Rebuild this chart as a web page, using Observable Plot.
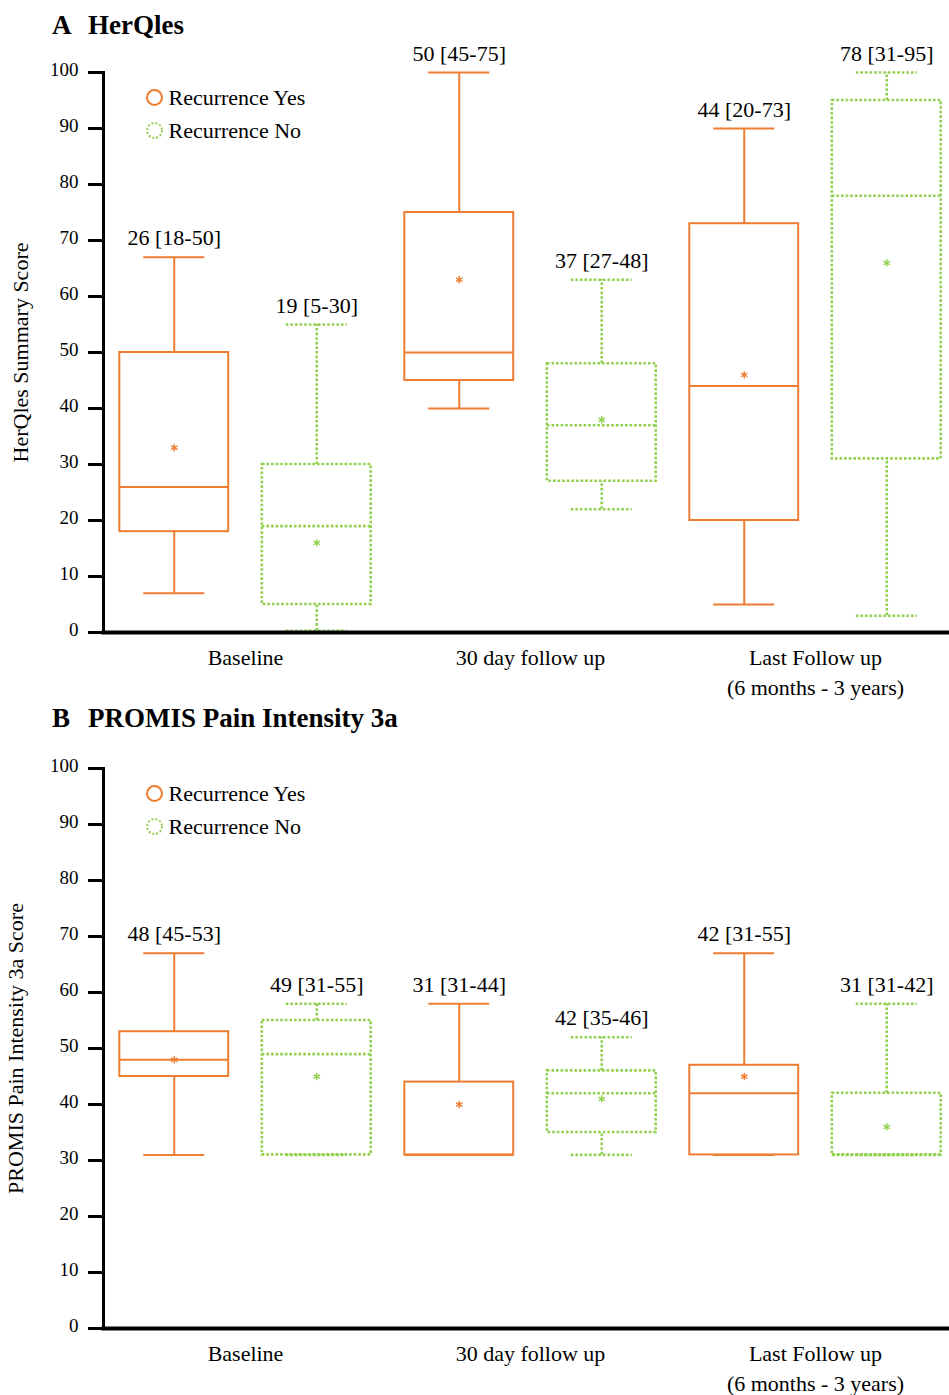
<!DOCTYPE html>
<html>
<head>
<meta charset="utf-8">
<script src="https://cdn.jsdelivr.net/npm/d3@7"></script>
<script src="https://cdn.jsdelivr.net/npm/@observablehq/plot@0.6"></script>
<style>
  html, body { margin: 0; padding: 0; background: #fff; }
  body { width: 949px; overflow: hidden; font-family: "Liberation Serif", "Times New Roman", serif; color: #000; }
  .title { height: 48px; line-height: 50px; padding-left: 52px; font-size: 27px; font-weight: bold; white-space: nowrap; }
  .title.b { line-height: 44px; }
  .title .letter { display: inline-block; width: 36px; }
  svg { display: block; }
</style>
</head>
<body>
<div id="app"></div>
<script>
// ---------- data ----------
const timepoints = ["Baseline", "30 day follow up", "Last Follow up\n(6 months - 3 years)"];
const seriesNames = ["Recurrence Yes", "Recurrence No"];
const yTicks = [0, 10, 20, 30, 40, 50, 60, 70, 80, 90, 100];
// each row: [min, q1, median, q3, max, mean] per timepoint
const herqlesYes = [[7, 18, 26, 50, 67, 33], [40, 45, 50, 75, 100, 63], [5, 20, 44, 73, 90, 46]];
const herqlesNo  = [[0.3, 5, 19, 30, 55, 16], [22, 27, 37, 48, 63, 38], [3, 31, 78, 95, 100, 66]];
const herqlesYesLabels = ["26 [18-50]", "50 [45-75]", "44 [20-73]"];
const herqlesNoLabels  = ["19 [5-30]", "37 [27-48]", "78 [31-95]"];
const promisYes = [[31, 45, 48, 53, 67, 48], [31, 31, 31, 44, 58, 40], [31, 31, 42, 47, 67, 45]];
const promisNo  = [[31, 31, 49, 55, 58, 45], [31, 35, 42, 46, 52, 41], [31, 31, 31, 42, 58, 36]];
const promisYesLabels = ["48 [45-53]", "31 [31-44]", "42 [31-55]"];
const promisNoLabels  = ["49 [31-55]", "42 [35-46]", "31 [31-42]"];

// ---------- styles ----------
const ORANGE = "#ED7D31";
const GREEN = "#92D050";
const FS = 22;
const styles = [
  {stroke: ORANGE, strokeWidth: 2},
  {stroke: GREEN, strokeWidth: 2.6, strokeDasharray: "2.6,2"}
];
const offsets = [-0.25, 0.25];
const BW = 0.191;   // half box width (in group units)
const CW = 0.107;   // half cap width

function makePanel(title, letter, yesArr, noArr, yesLabels, noLabels, yLabel, yLabelDx, svgHeight) {
  const marks = [];
  [[yesArr, yesLabels], [noArr, noLabels]].forEach(([arr, labs], s) => {
    const data = timepoints.map((t, i) => {
      const [min, q1, median, q3, max, mean] = arr[i];
      return {t, pos: i + offsets[s], min, q1, median, q3, max, mean, label: labs[i]};
    });
    const st = styles[s];
    marks.push(
      Plot.ruleX(data, {x: "pos", y1: "q3", y2: "max", ...st}),
      Plot.ruleX(data, {x: "pos", y1: "min", y2: "q1", ...st}),
      Plot.ruleY(data, {x1: d => d.pos - CW, x2: d => d.pos + CW, y: "max", ...st}),
      Plot.ruleY(data, {x1: d => d.pos - CW, x2: d => d.pos + CW, y: "min", ...st}),
      Plot.rect(data, {x1: d => d.pos - BW, x2: d => d.pos + BW, y1: "q1", y2: "q3", fill: "none", ...st}),
      Plot.ruleY(data, {x1: d => d.pos - BW, x2: d => d.pos + BW, y: "median", ...st}),
      Plot.dot(data, {x: "pos", y: "mean", symbol: "asterisk", r: 3.5, stroke: st.stroke, strokeWidth: 1.4}),
      Plot.text(data, {x: "pos", y: "max", text: "label", lineAnchor: "bottom", dy: -12, fontSize: FS, fill: "#000"})
    );
  });

  // legend inside the frame
  marks.push(
    Plot.dot([seriesNames[0]], {frameAnchor: "top-left", dx: 51, dy: 25, r: 7.5, fill: "none", stroke: ORANGE, strokeWidth: 2}),
    Plot.dot([seriesNames[1]], {frameAnchor: "top-left", dx: 51, dy: 58, r: 7.5, fill: "none", stroke: GREEN, strokeWidth: 2, strokeDasharray: "2,2"}),
    Plot.text([seriesNames[0]], {frameAnchor: "top-left", dx: 65, dy: 25, textAnchor: "start", lineAnchor: "middle", fontSize: FS, fill: "#000"}),
    Plot.text([seriesNames[1]], {frameAnchor: "top-left", dx: 65, dy: 58, textAnchor: "start", lineAnchor: "middle", fontSize: FS, fill: "#000"})
  );

  // axes
  marks.push(
    Plot.axisY({ticks: yTicks, tickSize: 15, strokeWidth: 3, tickFormat: () => "", label: null}),
    Plot.axisY({ticks: yTicks, tickSize: 0, tickPadding: 25, fontSize: 19, label: null, dy: -3}),
    Plot.frame({anchor: "left", strokeWidth: 3}),
    Plot.frame({anchor: "bottom", strokeWidth: 4}),
    Plot.text(timepoints, {x: (d, i) => i, frameAnchor: "bottom", lineAnchor: "top", dy: 11, lineHeight: 1.37, fontSize: FS, fill: "#000"}),
    Plot.text([yLabel], {frameAnchor: "left", textAnchor: "middle", lineAnchor: "middle", rotate: -90, dx: yLabelDx, fontSize: FS, fill: "#000"})
  );

  const svg = Plot.plot({
    width: 949,
    height: svgHeight,
    marginTop: 24,
    marginBottom: svgHeight - 584,
    marginLeft: 103,
    marginRight: 0,
    x: {domain: [-0.5, 2.5], range: [102.5, 957.5], axis: null},
    y: {domain: [0, 100], axis: null},
    style: {fontFamily: "'Liberation Serif', 'Times New Roman', serif", fontSize: "22px", color: "#000", background: "#fff", overflow: "visible"},
    marks
  });

  const wrap = document.createElement("div");
  const t = document.createElement("div");
  t.className = "title " + letter.toLowerCase();
  t.innerHTML = `<span class="letter"></span><span class="name"></span>`;
  t.querySelector(".letter").textContent = letter;
  t.querySelector(".name").textContent = title;
  wrap.appendChild(t);
  wrap.appendChild(svg);
  return wrap;
}

const app = document.getElementById("app");
app.appendChild(makePanel("HerQles", "A", herqlesYes, herqlesNo, herqlesYesLabels, herqlesNoLabels, "HerQles Summary Score", -83, 648));
app.appendChild(makePanel("PROMIS Pain Intensity 3a", "B", promisYes, promisNo, promisYesLabels, promisNoLabels, "PROMIS Pain Intensity 3a Score", -88, 651));
</script>
</body>
</html>
